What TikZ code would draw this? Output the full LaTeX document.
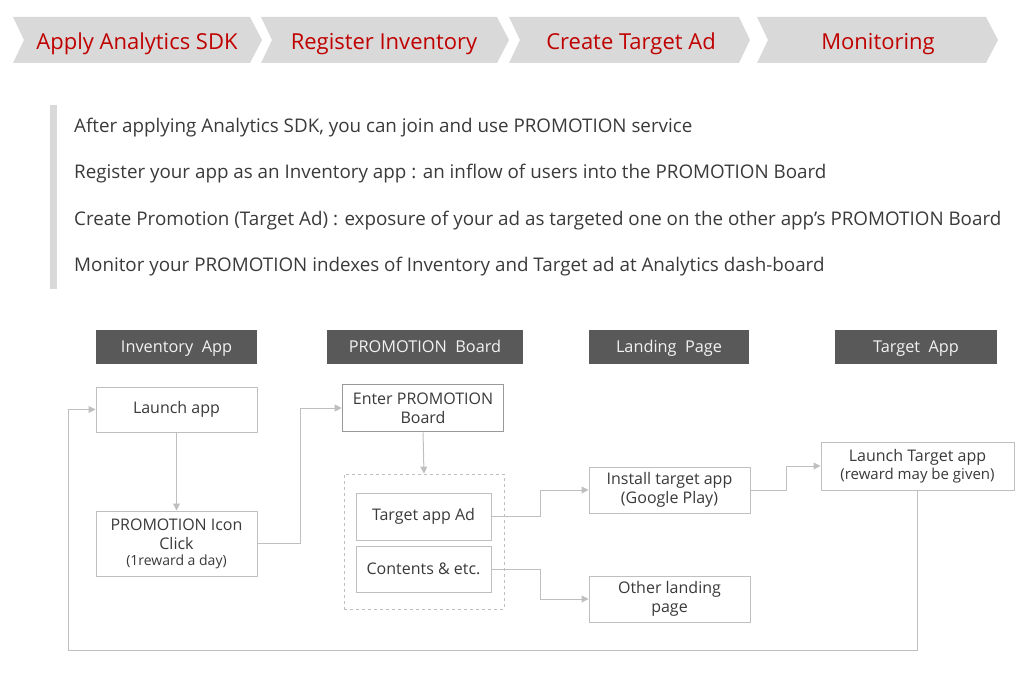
\documentclass[tikz,border=0pt]{standalone}
\usepackage{fontspec}
\setmainfont{Open Sans}
\usetikzlibrary{arrows.meta}
\definecolor{chev}{HTML}{D9D9D9}
\definecolor{chevtxt}{HTML}{C00000}
\definecolor{hdr}{HTML}{595959}
\definecolor{hdrtxt}{HTML}{F2F2F2}
\definecolor{txt}{HTML}{3A3A3A}
\definecolor{ln}{HTML}{BFBFBF}
\tikzset{
  chevlabel/.style={text=chevtxt, font=\fontsize{22}{26}\selectfont, text height=14pt, text depth=0pt},
  hdrbox/.style={fill=hdr, text=hdrtxt, minimum height=34pt, inner sep=0pt, text height=10.5pt, text depth=0pt, font=\fontsize{16.3}{19}\selectfont},
  box/.style={draw=ln, line width=1pt, fill=white, text=txt, align=center, inner sep=1pt, font=\fontsize{16}{19}\selectfont},
  line/.style={draw=ln, line width=1pt},
  arr/.style={line, -{Triangle[length=7pt,width=7pt]}},
  bodytxt/.style={anchor=base west, text=txt, font=\fontsize{18.8}{22}\selectfont, inner sep=0pt}
}
\begin{document}
\begin{tikzpicture}[x=1pt,y=-1pt]
\useasboundingbox (0,0) rectangle (1028,676);
% chevrons
\fill[chev] (13,17) -- (250,17) -- (262,40) -- (250,63) -- (13,63) -- (24,40) -- cycle;
\fill[chev] (261,17) -- (497,17) -- (509,40) -- (497,63) -- (261,63) -- (272,40) -- cycle;
\fill[chev] (509,17) -- (739,17) -- (750,40) -- (739,63) -- (509,63) -- (520,40) -- cycle;
\fill[chev] (757,17) -- (986,17) -- (998,40) -- (986,63) -- (757,63) -- (768,40) -- cycle;
\node[chevlabel] (c1) at (137,43) {Apply Analytics SDK};
\node[chevlabel] (c2) at (384,43) {Register Inventory};
\node[chevlabel] (c3) at (631,43) {Create Target Ad};
\node[chevlabel] (c4) at (878,43) {Monitoring};
% description
\fill[chev] (50,105) rectangle (57,289);
\node[bodytxt] (t1) at (74,132.5) {After applying Analytics SDK, you can join and use PROMOTION service};
\node[bodytxt] (t2) at (74,179) {Register your app as an Inventory app : an inflow of users into the PROMOTION Board};
\node[bodytxt] (t3) at (74,225.5) {Create Promotion (Target Ad) : exposure of your ad as targeted one on the other app's PROMOTION Board};
\node[bodytxt] (t4) at (74,272) {Monitor your PROMOTION indexes of Inventory and Target ad at Analytics dash-board};
% headers
\node[hdrbox, minimum width=161pt] (h1) at (176.5,347) {Inventory\ \ App};
\node[hdrbox, minimum width=196pt] (h2) at (425,347) {PROMOTION\ \ Board};
\node[hdrbox, minimum width=160pt] (h3) at (669,347) {Landing\ \ Page};
\node[hdrbox, minimum width=162pt] (h4) at (916,347) {Target\ \ App};
% boxes
\node[box, minimum width=161pt, minimum height=45pt] (launch) at (176.5,409.5) {Launch app};
\node[box, draw=ln!80!black, line width=1.6pt, minimum width=161pt, minimum height=47pt] (enter) at (423,408) {Enter PROMOTION\\Board};
\node[box, minimum width=161pt, minimum height=65pt] (icon) at (176.5,543.5) {PROMOTION Icon\\Click\\[-3pt]{\fontsize{14}{16}\selectfont(1reward a day)}};
\node[draw=ln, dashed, line width=0.8pt, minimum width=160pt, minimum height=135pt, inner sep=0pt] (board) at (424,541.5) {};
\node[box, minimum width=135pt, minimum height=47pt] (tad) at (423.5,516.5) {Target app Ad};
\node[box, minimum width=135pt, minimum height=46pt] (cont) at (423.5,569) {Contents \& etc.};
\node[box, minimum width=161pt, minimum height=46pt] (install) at (669.5,490) {Install target app\\(Google Play)};
\node[box, minimum width=161pt, minimum height=46pt] (other) at (669.5,599) {Other landing\\page};
\node[box, minimum width=193pt, minimum height=48pt] (launchT) at (917.5,466) {Launch Target app\\[-1pt]{\fontsize{15}{17}\selectfont(reward may be given)}};
% connectors
\coordinate (loop) at (68,650);
\draw[arr] (launch.south) -- (icon.north);
\draw[arr] (icon.east) -- ++(43,0) |- (enter.west);
\draw[arr] (enter.south) -- (board.north);
\draw[arr] (tad.east) -- ++(49,0) |- (install.west);
\draw[arr] (cont.east) -- ++(49,0) |- (other.west);
\draw[arr] (install.east) -- ++(36,0) |- (launchT.west);
\draw[arr] (launchT.south) |- (loop) |- (launch.west);
\end{tikzpicture}
\end{document}
